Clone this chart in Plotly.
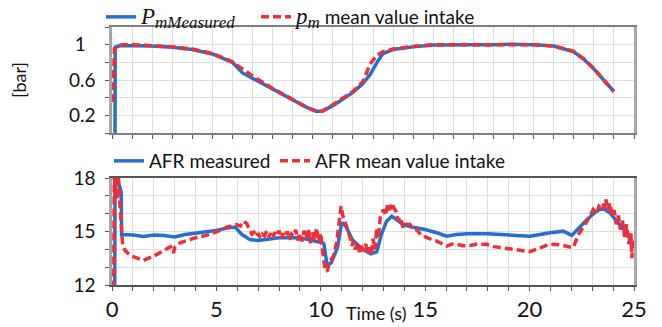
import plotly.graph_objects as go

# ---------------- data ----------------
pm_meas_t = [0.15, 0.16, 0.4, 1, 2, 3, 4, 5, 6, 6.5, 7, 8, 9, 9.7, 10.2, 10.5, 11, 12,
             12.5, 12.85, 13.2, 13.5, 14, 15, 16, 17, 18, 19, 20, 21, 22, 23, 23.5, 24, 24.5, 25]
pm_meas_v = [-0.1, 0.97, 0.99, 0.99, 0.985, 0.97, 0.945, 0.895, 0.8, 0.68, 0.62, 0.5, 0.38,
             0.29, 0.245, 0.25, 0.31, 0.46, 0.56, 0.66, 0.8, 0.9, 0.945, 0.975, 0.995, 1.0,
             1.0, 1.0, 1.005, 1.0, 0.985, 0.92, 0.835, 0.725, 0.595, 0.47]

pm_mean_t = [0.04, 0.08, 0.12, 0.3, 0.6, 1, 2, 3, 4, 5, 6, 6.5, 7, 8, 9, 9.7, 10.2, 10.5, 11,
             12, 12.5, 12.85, 13.2, 13.5, 14, 15, 16, 17, 18, 19, 20, 21, 22, 23, 23.5, 24,
             24.5, 25]
pm_mean_v = [0.35, 0.6, 0.95, 0.99, 1.0, 1.0, 0.99, 0.975, 0.95, 0.9, 0.805, 0.72, 0.645,
             0.505, 0.385, 0.29, 0.245, 0.25, 0.32, 0.47, 0.58, 0.78, 0.88, 0.92, 0.95, 0.98,
             1.0, 1.0, 1.0, 1.005, 1.005, 1.0, 0.985, 0.925, 0.84, 0.73, 0.6, 0.47]

afr_meas_t = [0.13, 0.15, 0.3, 0.44, 0.46, 1.0, 1.5, 2.0, 2.5, 3.0, 3.5, 4.0, 4.5, 5.0, 5.5,
              5.9, 6.2, 6.6, 7.0, 8.0, 9.0, 9.8, 10.1, 10.15, 10.3, 10.5, 10.8, 11.0, 11.2,
              11.5, 12.0, 12.4, 12.68, 12.9, 13.15, 13.4, 13.6, 13.95, 14.4, 15.0, 15.55,
              16.03, 16.5, 17.0, 18.0, 18.74, 19.5, 20.02, 20.98, 21.6, 22.02, 22.34, 22.75,
              23.2, 23.5, 23.85, 24.33, 24.65, 24.97]
afr_meas_v = [11.5, 18.3, 17.8, 17.2, 14.83, 14.8, 14.72, 14.8, 14.78, 14.69, 14.83, 14.9,
              14.95, 15.06, 15.2, 15.25, 14.85, 14.55, 14.5, 14.65, 14.65, 14.46, 14.37, 14.3,
              13.1, 13.25, 14.1, 15.5, 15.3, 14.55, 14.0, 13.75, 13.86, 14.83, 15.58, 15.86,
              15.67, 15.39, 15.24, 15.11, 14.93, 14.74, 14.83, 14.87, 14.87, 14.83, 14.8,
              14.74, 14.93, 15.02, 14.78, 15.2, 15.67, 16.14, 16.32, 16.04, 15.39, 14.93, 14.2]

afr_mean_t = [0.08, 0.11, 0.16, 0.2, 0.26, 0.3, 0.34, 0.38, 0.44, 0.5, 0.62, 0.8, 1.0, 1.5,
              2.0, 2.5, 2.8, 2.95, 3.0, 3.26, 3.6, 4.0, 4.5, 5.0, 5.5, 5.97, 6.15, 6.29, 6.45,
              6.6, 6.7, 6.8, 6.9, 7.0, 7.1, 7.2, 7.3, 7.4, 7.5, 7.6, 7.7, 7.8, 7.9, 8.0, 8.1,
              8.2, 8.3, 8.4, 8.5, 8.6, 8.7, 8.8, 8.9, 9.0, 9.1, 9.2, 9.3, 9.4, 9.5, 9.6, 9.7,
              9.8, 9.9, 10.0, 10.05, 10.2, 10.3, 10.44, 10.6, 10.76, 10.9, 10.97, 11.05, 11.16,
              11.3, 11.4, 11.5, 11.56, 11.65, 11.75, 11.85, 11.95, 12.04, 12.15, 12.25, 12.35,
              12.44, 12.5, 12.6, 12.68, 12.75, 12.85, 13.0, 13.1, 13.2, 13.3, 13.4, 13.5, 13.6,
              13.7, 13.8, 13.95, 14.1, 14.27, 14.45, 14.59, 14.8, 15.07, 15.3, 15.55, 15.8,
              16.03, 16.3, 16.51, 16.8, 17.15, 17.5, 17.95, 18.3, 18.74, 19.0, 19.38, 19.7,
              20.02, 20.3, 20.65, 20.9, 21.13, 21.5, 21.93, 22.09, 22.34, 22.55, 22.75, 23.05,
              23.2, 23.35, 23.5, 23.6, 23.66, 23.75, 23.85, 23.95, 24.05, 24.15, 24.25, 24.35,
              24.45, 24.55, 24.65, 24.75, 24.85, 24.9, 24.95, 25.0]
afr_mean_v = [11.8, 18.3, 17.0, 18.3, 16.8, 18.2, 17.2, 16.3, 15.2, 14.4, 13.95, 13.75, 13.6,
              13.38, 13.62, 13.94, 14.15, 13.8, 14.1, 14.37, 14.5, 14.65, 14.78, 14.98, 15.24,
              15.39, 15.3, 15.58, 15.45, 15.11, 14.85, 14.95, 14.7, 14.9, 14.65, 14.85, 14.75,
              15.0, 14.7, 14.9, 14.6, 14.95, 14.75, 15.05, 14.6, 14.9, 14.7, 15.0, 14.55, 14.85,
              14.75, 15.1, 14.5, 14.9, 14.45, 15.05, 14.6, 15.15, 14.35, 14.95, 14.5, 15.2, 14.4,
              14.9, 14.25, 12.88, 12.75, 13.34, 13.6, 14.37, 15.6, 16.42, 15.9, 15.58, 15.0,
              14.7, 14.2, 14.46, 14.0, 14.35, 13.85, 14.2, 13.9, 14.3, 13.75, 14.1, 13.8, 14.6,
              14.0, 15.2, 14.6, 15.8, 16.23, 15.9, 16.5, 16.2, 16.6, 16.3, 16.14, 15.6, 15.8,
              15.2, 15.4, 15.39, 15.1, 15.11, 14.8, 14.65, 14.55, 14.46, 14.3, 14.18, 14.3,
              14.28, 14.2, 14.22, 14.3, 14.28, 14.15, 14.09, 14.05, 14.0, 13.95, 13.87, 14.0,
              14.13, 14.25, 14.28, 14.25, 14.13, 14.1, 14.83, 15.2, 15.58, 16.23, 16.0, 16.5,
              16.6, 16.3, 16.79, 16.2, 16.6, 15.9, 16.2, 15.4, 15.9, 15.1, 15.6, 14.7, 15.4,
              14.3, 14.9, 13.5, 14.5, 14.2]

top_y_ticks = [0.2, 0.6, 1.0]
top_y_text = ["0.2", "0.6", "1\u00a0\u00a0"]
bot_y_ticks = [12, 15, 18]
bot_y_text = ["12", "15", "18"]
bot_x_ticks = [0, 5, 10, 15, 20, 25]
bot_x_text = ["0", "5", "10", "15", "20", "25"]
x_title = "Time (s)"
y_title = "[bar]"

# ---------------- style ----------------
BLUE = "#2470cf"
RED = "#ee2f3a"
FONT = "Lato"
GRID = "#dedede"
OFF = 8                      # page body margin
W, H = 662 - OFF, 327 - OFF  # figure size so that it fills the window

def fx(px):   # screen x pixel -> paper fraction
    return (px - OFF) / W

def fy(py):   # screen y pixel -> paper fraction
    return 1 - (py - OFF) / H

fig = go.Figure()
fig.add_trace(go.Scatter(
    x=pm_meas_t, y=pm_meas_v, mode="lines", xaxis="x", yaxis="y",
    line=dict(color=BLUE, width=3.5), legend="legend",
    name="<span style='font-family:Liberation Serif;font-size:23px'><i>P</i></span>"
         "<sub><span style='font-family:Liberation Serif;font-size:17px'><i>mMeasured</i></span></sub>"))
fig.add_trace(go.Scatter(
    x=pm_mean_t, y=pm_mean_v, mode="lines", xaxis="x", yaxis="y",
    line=dict(color=RED, width=3.5, dash="8px,4px"), legend="legend2",
    name="<span style='font-family:Liberation Serif;font-size:23px'><i>p</i></span>"
         "<sub><span style='font-family:Liberation Serif;font-size:17px'><i>m</i></span></sub>"
         " mean value intake"))
fig.add_trace(go.Scatter(
    x=afr_meas_t, y=afr_meas_v, mode="lines", xaxis="x2", yaxis="y2",
    line=dict(color=BLUE, width=3.5), legend="legend3", name="AFR measured"))
fig.add_trace(go.Scatter(
    x=afr_mean_t, y=afr_mean_v, mode="lines", xaxis="x2", yaxis="y2",
    line=dict(color=RED, width=3.5, dash="8px,4px"), legend="legend4",
    name="AFR mean value intake"))

def leg(px, py):
    return dict(x=fx(px), y=fy(py), xanchor="left", yanchor="middle", orientation="h",
                bgcolor="rgba(0,0,0,0)", font=dict(family=FONT, size=19, color="#111"),
                itemwidth=30)

axis_common = dict(showgrid=True, gridcolor=GRID, gridwidth=1, zeroline=False,
                   showline=True, mirror=True, ticks="outside", ticklen=4,
                   automargin=False,
                   tickfont=dict(family=FONT, size=19, color="#111"))
minor_x = dict(dtick=1, showgrid=True, gridcolor=GRID, gridwidth=1,
               ticks="outside", ticklen=4, tickcolor="#555")

fig.update_layout(
    width=W, height=H,
    margin=dict(l=0, r=0, t=0, b=0, autoexpand=False),
    paper_bgcolor="white", plot_bgcolor="white",
    font=dict(family=FONT, size=18, color="#111"),
    showlegend=True,
    legend=leg(101, 17),
    legend2=leg(256, 17),
    legend3=leg(109, 161),
    legend4=leg(275, 161),
    xaxis=dict(axis_common, domain=[fx(112), fx(634)], anchor="y", range=[0, 26],
               tick0=0, dtick=1, showticklabels=False,
               linecolor="#7f7f7f", linewidth=1.5, tickcolor="#555"),
    yaxis=dict(axis_common, domain=[fy(133), fy(27)], anchor="x", range=[0, 1.2],
               tickvals=top_y_ticks, ticktext=top_y_text,
               minor=dict(tick0=0, dtick=0.2, showgrid=True, gridcolor=GRID,
                          ticks="outside", ticklen=4, tickcolor="#555"),
               linecolor="#a6a6a6", linewidth=2.5, tickcolor="#555",
               ticklabelstandoff=6,
               title=dict(text=y_title, font=dict(family=FONT, size=18), standoff=46)),
    xaxis2=dict(axis_common, domain=[fx(112), fx(634)], anchor="y2", range=[0, 25],
                tickvals=bot_x_ticks, ticktext=bot_x_text,
                minor=dict(minor_x, tick0=0),
                tickfont=dict(family=FONT, size=22, color="#111"),
                linecolor="#555", linewidth=1.5, tickcolor="#555"),
    yaxis2=dict(axis_common, domain=[fy(285), fy(178)], anchor="x2", range=[12, 18],
                tickvals=bot_y_ticks, ticktext=bot_y_text,
                minor=dict(tick0=12, dtick=1, showgrid=True, gridcolor=GRID,
                           ticks="outside", ticklen=4, tickcolor="#555"),
                linecolor="#a6a6a6", linewidth=2.5, tickcolor="#555",
                ticklabelstandoff=6),
    annotations=[dict(text=x_title, xref="paper", yref="paper", x=fx(376), y=fy(313),
                      xanchor="center", yanchor="middle", showarrow=False,
                      font=dict(family=FONT, size=18, color="#111"))],
)

fig.write_html("out.html")
